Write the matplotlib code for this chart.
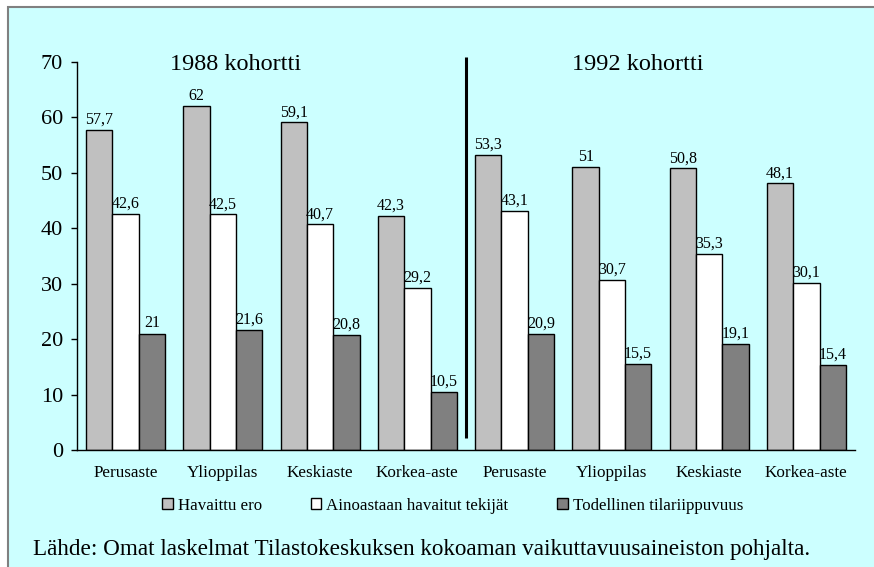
import numpy as np
import matplotlib.pyplot as plt
from matplotlib.patches import Patch, Rectangle

plt.rcParams['font.family'] = ['Liberation Serif', 'DejaVu Serif']

categories = ['Perusaste', 'Ylioppilas', 'Keskiaste', 'Korkea-aste',
              'Perusaste', 'Ylioppilas', 'Keskiaste', 'Korkea-aste']
havaittu = [57.7, 62, 59.1, 42.3, 53.3, 51, 50.8, 48.1]
ainoastaan = [42.6, 42.5, 40.7, 29.2, 43.1, 30.7, 35.3, 30.1]
todellinen = [21, 21.6, 20.8, 10.5, 20.9, 15.5, 19.1, 15.4]
series_names = ['Havaittu ero', 'Ainoastaan havaitut tekijät', 'Todellinen tilariippuvuus']
cohorts = ['1988 kohortti', '1992 kohortti']


def fmt(v):
    s = ('%g' % v).replace('.', ',')
    return s


fig = plt.figure(figsize=(8.74, 5.67), dpi=100)
fig.patch.set_facecolor('white')

# cyan panel with grey border on top/left, drawn behind everything
bg = fig.add_axes([0, 0, 1, 1], zorder=-10)
bg.set_xlim(0, 874)
bg.set_ylim(567, 0)
bg.axis('off')
bg.add_patch(Rectangle((8, 6.5), 900, 600, facecolor='#CCFFFF',
                       edgecolor='#808080', lw=1.5))

ax = fig.add_axes([77 / 874, 1 - 450 / 567, 778 / 874, 388 / 567])
ax.set_facecolor('none')

x = np.arange(len(categories))
w = 0.27
colors = ['#C0C0C0', '#FFFFFF', '#808080']
for k, vals in enumerate([havaittu, ainoastaan, todellinen]):
    bars = ax.bar(x + (k - 1) * w, vals, w, color=colors[k], edgecolor='black', lw=1)
    for b, v in zip(bars, vals):
        ax.text(b.get_x() + b.get_width() / 2, v + 0.4, fmt(v),
                ha='center', va='bottom', fontsize=11.5)

ax.set_xlim(-0.5, 7.5)
ax.set_ylim(0, 70)
ax.set_yticks(range(0, 71, 10))
ax.tick_params(axis='y', labelsize=16, length=4, width=1, pad=6)
ax.set_xticks(x)
ax.set_xticklabels(categories)
ax.tick_params(axis='x', labelsize=12.3, length=0, pad=11)
for s in ['top', 'right']:
    ax.spines[s].set_visible(False)
ax.spines['left'].set_linewidth(1)
ax.spines['bottom'].set_linewidth(1)

ax.vlines(3.5, 2.2, 70.9, color='black', lw=2.2, clip_on=False)
ax.text(1.13, 69.6, cohorts[0], ha='center', va='center', fontsize=17.5)
ax.text(5.27, 69.6, cohorts[1], ha='center', va='center', fontsize=17.5)

handles = [Patch(facecolor=c, edgecolor='black', lw=1) for c in colors]
fig.legend(handles, series_names, loc='center', bbox_to_anchor=(0.518, 0.108),
           ncol=3, frameon=False, fontsize=12.2, handlelength=0.6, handleheight=0.6,
           handletextpad=0.3, columnspacing=2.9)

fig.text(33 / 874, 1 - 549 / 567,
         'Lähde: Omat laskelmat Tilastokeskuksen kokoaman vaikuttavuusaineiston pohjalta.',
         ha='left', va='center', fontsize=16.7)

fig.savefig('out.png', dpi=100, facecolor=fig.get_facecolor())
